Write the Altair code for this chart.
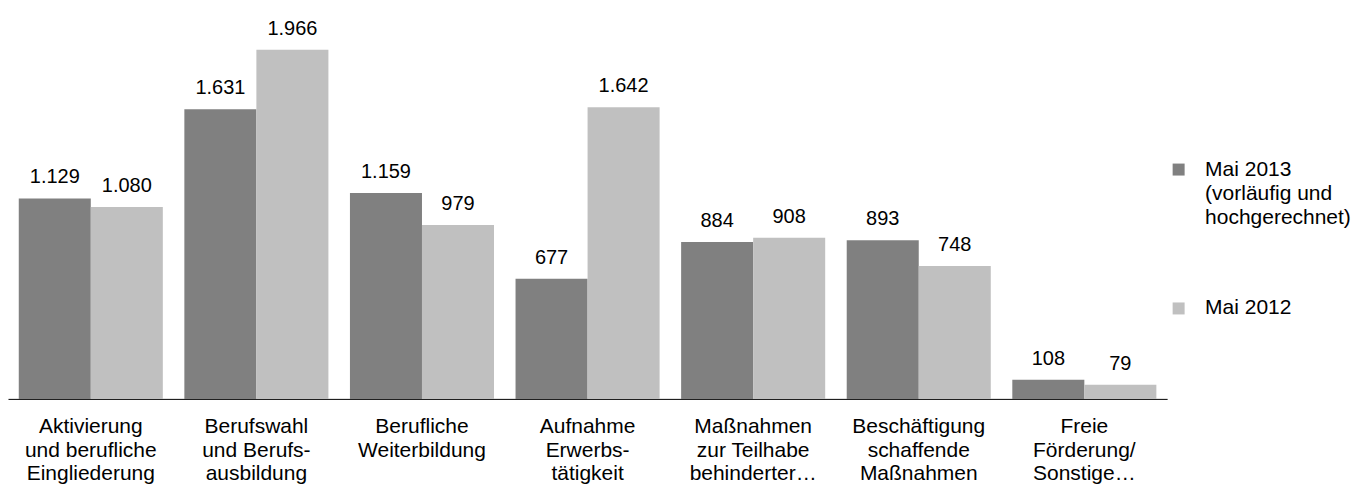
import altair as alt
import pandas as pd

categories = [
    "Aktivierung\nund berufliche\nEingliederung",
    "Berufswahl\nund Berufs-\nausbildung",
    "Berufliche\nWeiterbildung",
    "Aufnahme\nErwerbs-\ntätigkeit",
    "Maßnahmen\nzur Teilhabe\nbehinderter…",
    "Beschäftigung\nschaffende\nMaßnahmen",
    "Freie\nFörderung/\nSonstige…",
]
series = ["Mai 2013 (vorläufig und hochgerechnet)", "Mai 2012"]
values_2013 = [1129, 1631, 1159, 677, 884, 893, 108]
values_2012 = [1080, 1966, 979, 1642, 908, 748, 79]
colors = ["#808080", "#C0C0C0"]

rows = []
for c, a, b in zip(categories, values_2013, values_2012):
    rows.append({"cat": c, "series": series[0], "value": a})
    rows.append({"cat": c, "series": series[1], "value": b})
df = pd.DataFrame(rows)

FONT = "Liberation Sans"

x_enc = alt.X(
    "cat:N",
    sort=categories,
    scale=alt.Scale(paddingInner=0.13, paddingOuter=0.065),
    axis=alt.Axis(
        title=None,
        labelAngle=0,
        ticks=False,
        labelPadding=17,
        labelFontSize=21,
        labelLineHeight=23.5,
        labelColor="black",
        labelFont=FONT,
        labelLimit=0,
        domainColor="black",
        domainWidth=1,
        labelExpr="split(datum.label, '\\n')",
    ),
)
y_enc = alt.Y("value:Q", scale=alt.Scale(domain=[0, 2150]), axis=None)
xoff = alt.XOffset("series:N", sort=series, scale=alt.Scale(paddingInner=0, paddingOuter=0))

bars = alt.Chart(df).mark_bar().encode(
    x=x_enc,
    y=y_enc,
    xOffset=xoff,
    color=alt.Color(
        "series:N",
        sort=series,
        scale=alt.Scale(domain=series, range=colors),
        legend=alt.Legend(
            title=None,
            orient="none",
            legendX=1161,
            legendY=151,
            symbolType="square",
            symbolSize=144,
            symbolStrokeWidth=0,
            labelFontSize=21,
            labelFont=FONT,
            labelColor="black",
            labelOffset=16,
            labelLimit=0,
            rowPadding=69,
            labelExpr="datum.label == 'Mai 2012' ? 'Mai 2012' : ['Mai 2013', '(vorläufig und', 'hochgerechnet)']",
        ),
    ),
)

labels = alt.Chart(df).transform_calculate(
    lbl="replace(format(datum.value, ','), ',', '.')"
).mark_text(
    baseline="alphabetic", dy=-15, fontSize=20, font=FONT, color="black"
).encode(
    x=alt.X("cat:N", sort=categories),
    y=alt.Y("value:Q"),
    xOffset=alt.XOffset("series:N", sort=series),
    text="lbl:N",
)

chart = (
    alt.layer(bars, labels)
    .properties(width=1160, height=391, padding=0)
    .configure(
        view=alt.ViewConfig(strokeWidth=0, stroke="transparent"),
        style={"guide-label": {"lineHeight": 24}},
    )
)

chart.save("out.html", embed_options={"renderer": "svg", "actions": False})
